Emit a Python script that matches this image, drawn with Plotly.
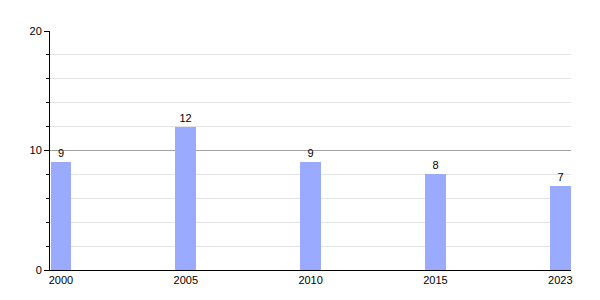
import plotly.graph_objects as go

years = ["2000", "2005", "2010", "2015", "2023"]
values = [9, 12, 9, 8, 7]

fig = go.Figure(
    go.Bar(
        x=years,
        y=values,
        width=0.166,
        marker=dict(color="#99aaff", line=dict(width=0)),
        text=[str(v) for v in values],
        textposition="outside",
        textfont=dict(size=11, color="#000000"),
        cliponaxis=False,
        hoverinfo="x+y",
    )
)

fig.update_layout(
    width=600,
    height=300,
    margin=dict(l=50, r=29, t=31, b=30),
    paper_bgcolor="white",
    plot_bgcolor="white",
    font=dict(family="Liberation Sans, Arial, sans-serif", size=11, color="#000000"),
    showlegend=False,
    bargap=0,
)

fig.update_xaxes(
    type="category",
    range=[-0.088, 4.086],
    showgrid=False,
    showline=True,
    linecolor="#000000",
    linewidth=1,
    ticks="",
    tickfont=dict(size=11),
    zeroline=False,
)

fig.update_yaxes(
    range=[0, 20],
    tickvals=[0, 10, 20],
    showgrid=True,
    gridcolor="#a0a0a0",
    gridwidth=1,
    showline=True,
    linecolor="#000000",
    linewidth=1,
    ticks="outside",
    ticklen=5,
    tickcolor="#000000",
    tickfont=dict(size=11),
    zeroline=False,
    minor=dict(
        tickvals=[2, 4, 6, 8, 12, 14, 16, 18],
        showgrid=True,
        gridcolor="#e4e4e4",
        gridwidth=1,
        ticks="outside",
        ticklen=3,
        tickcolor="#000000",
    ),
)

fig.write_html("out.html")
